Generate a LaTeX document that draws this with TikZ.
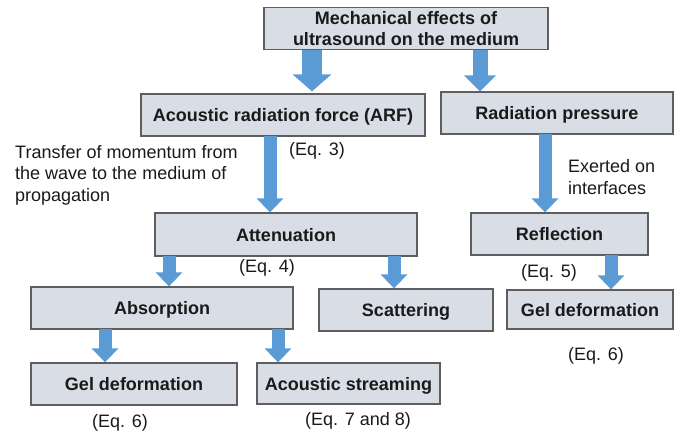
\documentclass[tikz,border=0pt]{standalone}
\usepackage{fontspec}
\setmainfont{Liberation Sans}
\usetikzlibrary{arrows.meta}
\definecolor{boxfill}{HTML}{D9DEE6}
\definecolor{boxline}{HTML}{5E5E5E}
\definecolor{arrowblue}{HTML}{5B9BD5}
\definecolor{txt}{HTML}{1A1A1A}
\begin{document}
\begin{tikzpicture}[x=1pt,y=-1pt,
  box/.style={draw=boxline,line width=1.3pt,fill=boxfill,inner sep=0pt,text=txt,
    font=\fontsize{18}{21}\selectfont\bfseries,align=center},
  onebox/.style={box,text height=13pt,text depth=0pt},
  lbl/.style={inner sep=0pt,text=txt,font=\fontsize{18}{21.5}\selectfont},
  barrow/.style={draw=arrowblue,line width=13pt,line cap=butt,
    -{Triangle[width=26pt,length=14pt]}},
  bigarrow/.style={draw=arrowblue,line width=20pt,line cap=butt,
    -{Triangle[width=38pt,length=17pt]}},
  medarrow/.style={draw=arrowblue,line width=15pt,line cap=butt,
    -{Triangle[width=31pt,length=16pt]}}]
\useasboundingbox (0,0) rectangle (694,434);
\fill[white] (0,0) rectangle (694,434);

\node[box,minimum width=284pt,minimum height=42pt] (top) at (406,28.5)
  {Mechanical effects of\\ultrasound on the medium};
\node[onebox,minimum width=284pt,minimum height=42pt] (arf) at (283,115)
  {Acoustic radiation force (ARF)};
\node[onebox,minimum width=232pt,minimum height=42pt] (rp) at (557,113)
  {Radiation pressure};
\node[onebox,minimum width=262pt,minimum height=43pt] (att) at (286,234.5)
  {Attenuation};
\node[onebox,minimum width=177pt,minimum height=42pt] (refl) at (559.5,234)
  {Reflection};
\node[onebox,minimum width=262pt,minimum height=42pt] (abs) at (162,308)
  {Absorption};
\node[onebox,minimum width=174pt,minimum height=42pt] (scat) at (406,310)
  {Scattering};
\node[onebox,minimum width=166pt,minimum height=39pt] (gel2) at (590,309.5)
  {Gel deformation};
\node[onebox,minimum width=206pt,minimum height=42pt] (gel1) at (134,384)
  {Gel deformation};
\node[onebox,minimum width=183pt,minimum height=41pt] (as) at (348.5,383.5)
  {Acoustic streaming};

\node[lbl,anchor=west,align=left] (transfer) at (15,175)
  {Transfer of momentum from\\the wave to the medium of\\propagation};
\node[lbl] (eq3) at (317,151) {(Eq. 3)};
\node[lbl,anchor=west,align=left] (exerted) at (568,177) {Exerted on\\interfaces};
\node[lbl] (eq4) at (267,268) {(Eq. 4)};
\node[lbl] (eq5) at (549,273) {(Eq. 5)};
\node[lbl] (eq6b) at (596,356) {(Eq. 6)};
\node[lbl] (eq6a) at (120,423) {(Eq. 6)};
\node[lbl] (eq78) at (358,421) {(Eq. 7 and 8)};

\draw[bigarrow] ([xshift=-94pt,yshift=0.6pt]top.south) -- ([xshift=29pt,yshift=2pt]arf.north);
\draw[medarrow] ([xshift=74pt,yshift=0.6pt]top.south) -- ([xshift=-77pt]rp.north);
\draw[barrow] ([xshift=-13pt,yshift=0.6pt]arf.south) -- ([xshift=-16pt]att.north);
\draw[barrow] ([xshift=-12pt,yshift=0.6pt]rp.south) -- ([xshift=-14.5pt]refl.north);
\draw[barrow] ([xshift=-117pt,yshift=0.6pt]att.south) -- ([xshift=7pt]abs.north);
\draw[barrow] ([xshift=108pt,yshift=0.6pt]att.south) -- ([xshift=-12pt]scat.north);
\draw[barrow] ([xshift=51.5pt,yshift=0.6pt]refl.south) -- ([xshift=21pt]gel2.north);
\draw[barrow] ([xshift=-57pt,yshift=0.6pt]abs.south) -- ([xshift=-29pt]gel1.north);
\draw[barrow] ([xshift=116pt,yshift=0.6pt]abs.south) -- ([xshift=-70.5pt]as.north);
\end{tikzpicture}
\end{document}
